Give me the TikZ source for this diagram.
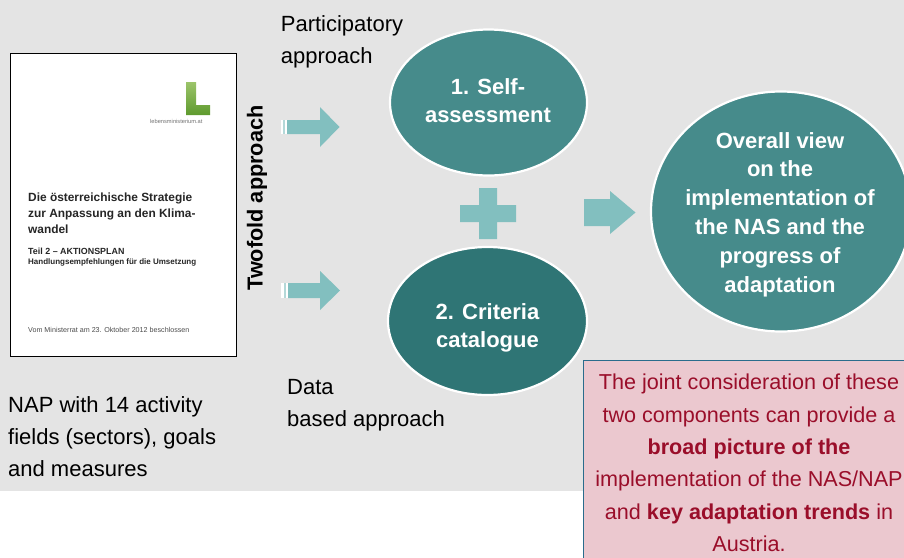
\documentclass[tikz,border=0pt]{standalone}
\usepackage{fontspec}
\setmainfont{Liberation Sans}
\usetikzlibrary{shapes.geometric}
\definecolor{panel}{HTML}{E4E4E4}
\definecolor{tealA}{HTML}{468B8B}
\definecolor{tealB}{HTML}{2F7575}
\definecolor{arrowc}{HTML}{82BFBF}
\definecolor{boxfill}{HTML}{EBC8CF}
\definecolor{boxtext}{HTML}{9A0E2A}
\definecolor{boxline}{HTML}{2A6C8C}
\definecolor{leafA}{HTML}{9CC46A}
\definecolor{leafB}{HTML}{5E9A2E}
\newcommand{\fs}[2]{\fontsize{#1}{#2}\selectfont}
\tikzset{
  blob/.style={ellipse,draw=white,line width=2.2pt,inner sep=0pt},
  blobtext/.style={inner sep=0pt,text=white,align=center},
  plain/.style={inner sep=0pt,align=left,text=black,font=\fs{22}{32}},
  doc/.style={inner sep=0pt,anchor=west,text=black!85},
  block/.style={fill=arrowc,draw=none},
}
\begin{document}
\begin{tikzpicture}[x=1pt,y=-1pt]
\useasboundingbox (0,0) rectangle (904,557);
\fill[panel] (0,0) rectangle (904,491);
% document cover
\draw[black,line width=1pt,fill=white] (10,53) rectangle (236,356);
\shade[top color=leafA,bottom color=leafB]
  (186,82) -- (196,82) -- (196,105) -- (210,105) -- (210,115) -- (186,115) -- cycle;
\node[doc,text=black!55,font=\fs{5.7}{7}] (site) at (150,121) {lebensministerium.at};
\node[doc,font=\fs{11.9}{14}\bfseries] (t1) at (28,198) {Die österreichische Strategie};
\node[doc,font=\fs{11.9}{14}\bfseries] (t2) at (28,214) {zur Anpassung an den Klima-};
\node[doc,font=\fs{11.9}{14}\bfseries] (t3) at (28,229) {wandel};
\node[doc,font=\fs{8.9}{11}\bfseries] (t4) at (28,251) {Teil 2 – AKTIONSPLAN};
\node[doc,font=\fs{8}{10}\bfseries] (t5) at (28,262) {Handlungsempfehlungen für die Umsetzung};
\node[doc,text=black!70,font=\fs{7.15}{9}] (t6) at (28,330) {Vom Ministerrat am 23. Oktober 2012 beschlossen};
% labels
\node[plain,anchor=center] (part) at (342,41.5) {Participatory\\approach};
\node[plain,anchor=west] (data) at (287,405.5) {Data\\based approach};
\node[plain,anchor=west] (nap) at (8,436.5) {NAP with 14 activity\\fields (sectors), goals\\and measures};
\node[inner sep=0pt,rotate=90,font=\fs{21.7}{26}\bfseries,text=black] (two) at (257,198) {Twofold approach};
% ellipses
\node[blob,fill=tealA,minimum width=197pt,minimum height=146pt] (self) at (488.5,102.5) {};
\node[blobtext,font=\fs{22}{28}\bfseries] (selft) at (488,100.5) {1. Self-\\assessment};
\node[blob,fill=tealB,minimum width=199pt,minimum height=148pt] (crit) at (487.5,321) {};
\node[blobtext,font=\fs{22}{28}\bfseries] (critt) at (487.5,327.5) {2. Criteria\\catalogue};
\node[blob,fill=tealA,minimum width=260pt,minimum height=240pt] (view) at (781,211.5) {};
\node[blobtext,font=\fs{22}{28.8}\bfseries] (viewt) at (780,214.5) {Overall view\\on the\\implementation of\\the NAS and the\\progress of\\adaptation};
% block arrows
\fill[white] (281,120) rectangle (287,134);
\fill[arrowc!60] (283,120) rectangle (285,134);
\fill[block] (287,120) -- (320,120) -- (320,107) -- (339.5,127) -- (320,147) -- (320,134) -- (287,134) -- cycle;
\fill[white] (281,283) rectangle (288,298);
\fill[arrowc!60] (283.5,283) rectangle (286,298);
\fill[block] (288,283) -- (320,283) -- (320,271) -- (340,290.5) -- (320,310) -- (320,298) -- (288,298) -- cycle;
\fill[block] (479,188) -- (497,188) -- (497,205) -- (516,205) -- (516,222) -- (497,222) -- (497,239) -- (479,239) -- (479,222) -- (460,222) -- (460,205) -- (479,205) -- cycle;
\fill[block] (584,199) -- (610,199) -- (610,191) -- (635.5,212.5) -- (610,234) -- (610,226) -- (584,226) -- cycle;
% note box
\draw[boxline,line width=1pt,fill=boxfill] (583,360.5) rectangle (906,560);
\node[inner sep=0pt,align=center,text=boxtext,font=\fs{21.6}{32.4}] (note) at (749,463) {%
The joint consideration of these\\
two components can provide a\\
\textbf{broad picture of the}\\
implementation of the NAS/NAP\\
and \textbf{key adaptation trends} in\\
Austria.};
\end{tikzpicture}
\end{document}
